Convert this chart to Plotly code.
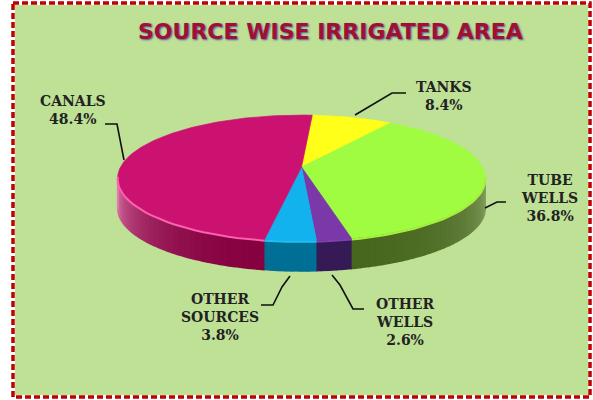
import numpy as np
import plotly.graph_objects as go

# ---- data ----
categories = ["TANKS", "TUBE WELLS", "OTHER WELLS", "OTHER SOURCES", "CANALS"]
values = [8.4, 36.8, 2.6, 3.8, 48.4]
label_lines = [["TANKS"], ["TUBE", "WELLS"], ["OTHER", "WELLS"], ["OTHER", "SOURCES"], ["CANALS"]]
title_text = "SOURCE WISE IRRIGATED AREA"

# ---- style ----
top_colors = ["#FFFF19", "#A0FC40", "#7A38A8", "#12B2EE", "#CB1270"]
rim_colors = ["#FFFF60", "#A8F040", "#8040B0", "#20C0F0", "#FF60B0"]
side_dark = ["#808000", "#45661C", "#351A55", "#006F96", "#85003F"]
side_light = ["#A0A000", "#8CA468", "#351A55", "#006F96", "#E080B0"]
label_pos = [(444, 88), (549, 181), (405, 305), (220, 300), (73, 102)]
leaders = [
    ([355, 392, 406], [115, 93, 93]),
    ([485, 497, 506], [208, 202, 202]),
    ([332, 340, 353, 364], [275, 285, 309, 309]),
    ([290, 282, 273, 261], [276, 287, 305, 305]),
    ([124, 117, 105], [160, 124, 124]),
]
BG = "#BEE196"
CX, CY, A, B, K, DEPTH, START = 301.5, 167, 181, 61, 0.175, 30, 4.0
LABEL_SIZE = 14


def proj(theta_deg):
    t = np.radians(theta_deg)
    u, v = np.sin(t), -np.cos(t)
    d = 1 - K * v
    return CX + A * u / d, CY + B * v / d


def lerp(c1, c2, t):
    a = [int(c1[i:i + 2], 16) for i in (1, 3, 5)]
    b = [int(c2[i:i + 2], 16) for i in (1, 3, 5)]
    return "rgb(%d,%d,%d)" % tuple(round(p + (q - p) * t) for p, q in zip(a, b))


bounds = START + np.concatenate([[0], np.cumsum(values)]) * 3.6
fig = go.Figure()


def poly(x, y, color, lw=0.7):
    fig.add_trace(go.Scatter(x=list(x), y=list(y), mode="lines", fill="toself", fillcolor=color,
                             line=dict(color=color, width=lw), hoverinfo="skip", showlegend=False))


# extruded side, visible from 100 to 260 degrees
STEP = 2.0
for i in range(len(values)):
    lo, hi = max(bounds[i], 100), min(bounds[i + 1], 260)
    th = lo
    while th < hi - 1e-6:
        nx = min(th + STEP, hi)
        x0, y0 = proj(th)
        x1, y1 = proj(nx)
        t = min(abs((th + nx) / 2 - 180) / 80, 1) ** 2.5
        poly([x0, x1, x1, x0], [y0, y1, y1 + DEPTH, y0 + DEPTH], lerp(side_dark[i], side_light[i], t), lw=1.5)
        th = nx

# top faces
for i in range(len(values)):
    th = np.arange(bounds[i], bounds[i + 1] + 0.5, 1.0)
    th = np.append(th[th < bounds[i + 1]], bounds[i + 1])
    x, y = proj(th)
    poly(np.r_[CX, x, CX], np.r_[CY, y, CY], top_colors[i])

# rim highlight along the near edge
for i in range(len(values)):
    lo, hi = max(bounds[i], 100), min(bounds[i + 1], 262)
    if lo < hi:
        x, y = proj(np.linspace(lo, hi, 30))
        fig.add_trace(go.Scatter(x=x, y=y + 1, mode="lines", line=dict(color=rim_colors[i], width=2),
                                 hoverinfo="skip", showlegend=False))

# leader lines
for lx, ly in leaders:
    fig.add_trace(go.Scatter(x=lx, y=ly, mode="lines", line=dict(color="#111111", width=1.6),
                             hoverinfo="skip", showlegend=False))

# labels
annotations = []
for lines, val, (lx, ly) in zip(label_lines, values, label_pos):
    text = "<br>".join(lines + [f"{val}%"])
    annotations.append(dict(x=lx, y=ly - 9, text=f"<b>{text}</b>", showarrow=False, xanchor="center",
                            yanchor="top", xref="x", yref="y", align="center", borderpad=0, borderwidth=0,
                            font=dict(family="DejaVu Serif", size=LABEL_SIZE, color="#222222")))
annotations.append(dict(x=330, y=31, text=f"<b>{title_text}</b>", showarrow=False, xref="x", yref="y",
                        xanchor="center", yanchor="middle",
                        font=dict(family="DejaVu Sans", size=22, color="#A01030",
                                  shadow="1px 1px 2px #5050A0")))

fig.update_layout(
    width=593, height=400, margin=dict(l=0, r=0, t=0, b=0), autosize=False,
    paper_bgcolor="white", plot_bgcolor="white", showlegend=False,
    xaxis=dict(range=[0, 593], visible=False, fixedrange=True),
    yaxis=dict(range=[400, 0], visible=False, fixedrange=True),
    annotations=annotations,
    shapes=[
        dict(type="rect", xref="x", yref="y", x0=13, y0=3, x1=590, y1=397, layer="below",
             fillcolor=BG, line=dict(color="white", width=4)),
        dict(type="rect", xref="x", yref="y", x0=13, y0=3, x1=590, y1=397, layer="below",
             line=dict(color="#C00000", width=3.5, dash="6px,3px")),
    ],
)
fig.write_html("out.html", config=dict(displayModeBar=False),
               post_script="document.body.style.margin='0';document.documentElement.style.overflow='hidden';")
